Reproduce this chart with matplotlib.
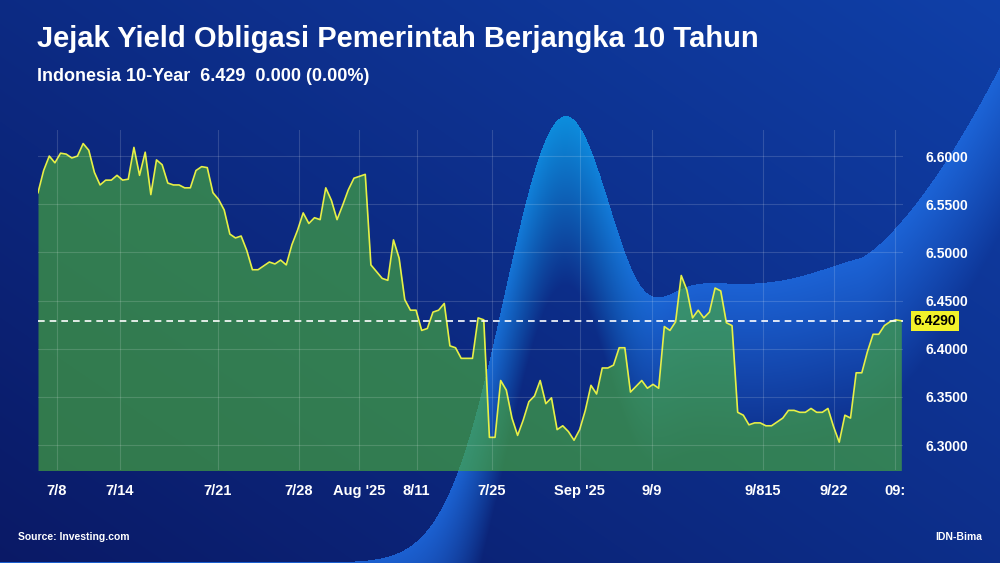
import numpy as np
import matplotlib
matplotlib.use("Agg")
import matplotlib.pyplot as plt

values = [6.562,6.585,6.600,6.593,6.603,6.602,6.598,6.600,6.613,6.606,6.583,6.570,6.575,6.575,6.580,6.575,6.576,6.609,6.580,6.604,
6.560,6.596,6.591,6.572,6.570,6.570,6.567,6.567,6.585,6.589,6.588,6.562,6.555,6.544,6.519,6.515,6.517,6.502,6.482,6.482,
6.486,6.490,6.488,6.492,6.487,6.508,6.523,6.541,6.530,6.536,6.534,6.567,6.554,6.534,6.549,6.565,6.577,6.579,6.581,6.487,
6.480,6.473,6.471,6.513,6.494,6.451,6.440,6.440,6.419,6.421,6.438,6.440,6.447,6.403,6.401,6.390,6.390,6.390,6.432,6.430,
6.308,6.308,6.367,6.357,6.328,6.310,6.326,6.345,6.351,6.367,6.343,6.349,6.316,6.320,6.314,6.305,6.316,6.336,6.362,6.353,
6.380,6.380,6.383,6.401,6.401,6.355,6.361,6.367,6.359,6.363,6.359,6.423,6.419,6.428,6.476,6.461,6.432,6.440,6.432,6.438,
6.463,6.460,6.427,6.424,6.334,6.331,6.321,6.323,6.323,6.320,6.320,6.324,6.328,6.336,6.336,6.334,6.334,6.338,6.334,6.334,
6.338,6.319,6.303,6.331,6.328,6.375,6.375,6.397,6.415,6.415,6.424,6.428,6.430,6.429]
tick_pos = [3.3,14.5,31.9,46.2,56.9,67.1,80.4,96,108.8,128.4,141,151.9]
tick_labels = ["7/8","7/14","7/21","7/28","Aug '25","8/11","7/25","Sep '25","9/9","9/815","9/22","09:"]
y_ticks = [6.30,6.35,6.40,6.45,6.50,6.55,6.60]
last = 6.429
title = "Jejak Yield Obligasi Pemerintah Berjangka 10 Tahun"
subtitle = "Indonesia 10-Year  6.429  0.000 (0.00%)"

plt.rcParams['font.family'] = ['Liberation Sans', 'DejaVu Sans']
fig = plt.figure(figsize=(10, 5.63), dpi=100)

# background
bg = fig.add_axes([0, 0, 1, 1]); bg.axis('off')
W, H = 1000, 563
xx, yy = np.meshgrid(np.linspace(0, 1, W), np.linspace(0, 1, H))
yfrac = 1 - yy
c0 = np.array([0.04, 0.10, 0.40]); c1 = np.array([0.06, 0.25, 0.66])
t = np.clip(0.55*xx + 0.45*yfrac, 0, 1)[..., None]
img = c0*(1-t) + c1*t
edge = (0.79*np.exp(-((xx-0.565)/0.085)**2)
        + 0.49/(1+np.exp(-(xx-0.66)/0.02))
        + 0.07/(1+np.exp(-(xx-0.83)/0.03))
        + 0.32*np.clip((xx-0.86)/0.14, 0, 1)**1.5)
inside = (yfrac < edge)
depth = np.clip((edge - yfrac)/0.30, 0, 1)
hump = np.exp(-((xx-0.565)/0.06)**2)
light_top = np.array([0.05, 0.62, 0.92])*hump[..., None] + np.array([0.12, 0.42, 0.88])*(1-hump[..., None])
w = (0.85*(1-depth))[..., None]
mixed = img*(1-w) + light_top*w
img = np.where(inside[..., None], mixed, img)
bg.imshow(img, extent=[0, 1, 0, 1], aspect='auto', origin='upper')
bg.set_xlim(0, 1); bg.set_ylim(0, 1)

ax = fig.add_axes([0.038, 0.165, 0.865, 0.604])
ax.set_facecolor('none')
x = np.arange(len(values))
ax.fill_between(x, values, 6.2, color='#48ac3c', alpha=0.65, lw=0)
ax.plot(x, values, color='#e6f046', lw=1.2)
ax.set_xlim(0, len(values)-1 + 0.3)
ax.set_ylim(6.274, 6.627)
ax.axhline(last, color='white', ls=(0, (4, 3)), lw=1.2)
for yv in y_ticks:
    ax.axhline(yv, color='white', alpha=0.15, lw=0.8)
for xv in tick_pos:
    ax.axvline(xv, color='white', alpha=0.15, lw=0.8)
for s in ax.spines.values():
    s.set_visible(False)
ax.yaxis.tick_right()
ax.set_yticks(y_ticks)
ax.set_yticklabels([f"{v:.4f}" for v in y_ticks], color='white', fontsize=10, fontweight='bold')
ax.set_xticks(tick_pos)
ax.set_xticklabels(tick_labels, color='white', fontsize=10.5, fontweight='bold')
ax.tick_params(length=0, pad=10)
ax.tick_params(axis='y', pad=16)
ax.text(1.0 + 0.012, last, f"{last:.4f}", transform=ax.get_yaxis_transform(), va='center', ha='left',
        fontsize=10, fontweight='bold', color='black',
        bbox=dict(boxstyle='square,pad=0.2', fc='#f2f22a', ec='none'))

fig.text(0.037, 0.93, title, color='white', fontsize=21, fontweight='bold', va='center')
fig.text(0.037, 0.865, subtitle, color='white', fontsize=13, fontweight='bold', va='center')
fig.text(0.018, 0.04, "Source: Investing.com", color='white', fontsize=7.5, fontweight='bold')
fig.text(0.982, 0.04, "IDN-Bima", color='white', fontsize=7.5, fontweight='bold', ha='right')
fig.savefig("out.png", dpi=100)
